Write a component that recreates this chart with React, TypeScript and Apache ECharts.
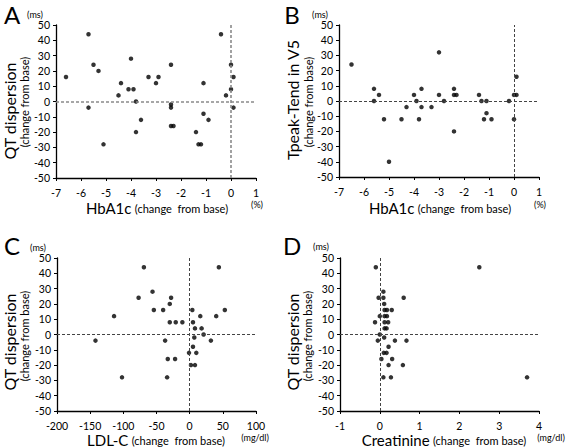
import React, { useEffect, useRef } from "react";
import * as echarts from "echarts";

// Panel A: HbA1c change (%) vs QT dispersion change (ms)
const hba1cA = [-6.6, -5.7, -5.7, -5.5, -5.3, -5.1, -4.5, -4.4, -4.1, -4.0, -3.9, -3.8, -3.8, -3.6, -3.3, -3.0, -2.9, -2.4, -2.4, -2.4, -2.4, -2.3, -1.4, -1.3, -1.2, -1.1, -1.1, -0.9, -0.4, -0.2, 0.0, 0.0, 0.1, 0.1];
const qtdA = [16, 44, -4, 24, 20, -28, 4, 12, 8, 28, 8, 0, -20, -12, 16, 12, 16, 24, -2, -4, -16, -16, -20, -28, -28, 12, -8, -12, 44, 4, 24, 8, 16, -4];

// Panel B: HbA1c change (%) vs Tpeak-Tend in V5 change (ms)
const hba1cB = [-6.5, -5.6, -5.6, -5.4, -5.2, -5.0, -4.5, -4.3, -4.0, -3.9, -3.8, -3.7, -3.7, -3.3, -3.0, -3.0, -2.8, -2.4, -2.4, -2.4, -2.3, -1.4, -1.3, -1.2, -1.1, -1.1, -0.9, -0.2, 0.0, 0.0, 0.1, 0.1];
const tpteB = [24, 8, 0, 4, -12, -40, -12, -4, 4, 0, -12, 8, -4, -4, 32, 4, 0, 8, 4, -20, 4, 4, 0, -12, 0, -8, -12, 0, 4, -12, 16, 4];

// Panel C: LDL-C change (mg/dl) vs QT dispersion change (ms)
const ldlC = [-142, -114, -102, -77, -69, -56, -54, -40, -37, -34, -33, -30, -30, -28, -21, -22, -11, -1, 2, 4, 5, 5, 8, 8, 7, 10, 16, 18, 21, 32, 40, 44, 53];
const qtdC = [-4, 12, -28, 24, 44, 28, 16, 16, -4, -28, -16, 8, 20, 24, 8, -16, 8, -12, -20, 16, 8, -8, -20, 4, -2, -12, 12, 4, 0, -4, 12, 44, 16];

// Panel D: Creatinine change (mg/dl) vs QT dispersion change (ms)
const creaD = [-0.1, 2.5, 0.09, -0.03, 0.09, 0.6, 0.11, 0.12, 0.18, 0.3, 0.0, 0.12, 0.18, -0.12, 0.12, 0.21, 0.12, 0.17, 0.0, -0.05, 0.11, 0.38, 0.67, 0.22, 0.1, 0.17, 0.04, 0.31, 0.22, 0.58, 0.09, 0.28, 3.7];
const qtdD = [44, 44, 28, 24, 24, 24, 20, 16, 16, 16, 12, 12, 12, 8, 8, 8, 4, 4, 0, -4, -2, -4, -4, -8, -12, -12, -16, -16, -20, -20, -28, -28, -28];

const yTicks = [-50, 50, 10];
const xRangeA = [-7, 1, 1];
const xRangeC = [-200, 100, 50];
const xRangeD = [-1, 4, 1];

const FONT = "Lato";

function zip(xs: number[], ys: number[]) {
  return xs.map((x, i) => [x, ys[i]]);
}

export default function App() {
  const ref = useRef<HTMLDivElement>(null);
  useEffect(() => {
    if (!ref.current) return;
    const chart = echarts.init(ref.current, null, { renderer: "svg" });
    const grids = [
      { left: 56, top: 25, width: 200, height: 153 },
      { left: 339, top: 25, width: 200, height: 152 },
      { left: 57, top: 258, width: 199, height: 153 },
      { left: 340, top: 258, width: 199, height: 153 },
    ];
    const xr = [xRangeA, xRangeA, xRangeC, xRangeD];
    const mkX = (i: number) => ({
      type: "value",
      gridIndex: i,
      min: xr[i][0],
      max: xr[i][1],
      interval: xr[i][2],
      splitLine: { show: false },
      axisLine: { onZero: false, lineStyle: { color: "#000", width: 1.3 } },
      axisTick: { show: true, length: 3, lineStyle: { color: "#000" } },
      axisLabel: { color: "#000", fontSize: 10.5, fontFamily: FONT, margin: 9 },
    });
    const mkY = (i: number) => ({
      type: "value",
      gridIndex: i,
      min: yTicks[0],
      max: yTicks[1],
      interval: yTicks[2],
      splitLine: { show: false },
      axisLine: { show: true, onZero: false, lineStyle: { color: "#000", width: 1.3 } },
      axisTick: { show: true, length: 3, lineStyle: { color: "#000" } },
      axisLabel: { color: "#000", fontSize: 10.5, fontFamily: FONT, margin: 6 },
    });
    const datas = [zip(hba1cA, qtdA), zip(hba1cB, tpteB), zip(ldlC, qtdC), zip(creaD, qtdD)];
    const refColors = ["#8a8a8a", "#444", "#444", "#444"];
    const refWidths = [1.6, 1, 1, 1];
    const series = datas.map((d, i) => ({
      type: "scatter",
      xAxisIndex: i,
      yAxisIndex: i,
      data: d,
      symbol: "circle",
      symbolSize: 4.5,
      itemStyle: { color: "#000" },
      markLine: {
        silent: true,
        symbol: "none",
        label: { show: false },
        lineStyle: { color: refColors[i], width: refWidths[i], type: [3, 2] },
        data: [{ yAxis: 0 }, { xAxis: 0 }],
      },
    }));
    const txt = (text: string, x: number, y: number, size: number, extra: any = {}) => ({
      type: "text",
      x,
      y,
      ...extra,
      style: {
        text,
        fill: "#000",
        font: `${size}px ${FONT}`,
        textAlign: "center",
        textVerticalAlign: "middle",
      },
    });
    const rot = { rotation: Math.PI / 2 };
    const xTitle = (big: string, x: number, y: number) => ({
      type: "text",
      x,
      y,
      style: {
        text: `{a|${big}} {b|(change  from base)}`,
        fill: "#000",
        textAlign: "center",
        textVerticalAlign: "middle",
        rich: {
          a: { fontSize: 15, fontFamily: FONT, fill: "#000" },
          b: { fontSize: 11, fontFamily: FONT, fill: "#000" },
        },
      },
    });
    const graphic = [
      txt("A", 12, 14, 24),
      txt("B", 292, 14, 24),
      txt("C", 12, 245, 24),
      txt("D", 292, 245, 24),
      txt("(ms)", 35, 14, 9),
      txt("(ms)", 320, 14, 9),
      txt("(ms)", 38, 247, 9),
      txt("(ms)", 321, 246, 9),
      txt("QT dispersion", 9, 111, 16, rot),
      txt("(change from base)", 24, 102, 11, rot),
      txt("Tpeak-Tend in V5", 292, 100, 16, rot),
      txt("(change from base)", 308, 102, 11, rot),
      txt("QT dispersion", 9, 342, 16, rot),
      txt("(change from base)", 24, 336, 11, rot),
      txt("QT dispersion", 292, 342, 16, rot),
      txt("(change from base)", 307, 336, 11, rot),
      xTitle("HbA1c", 157, 208),
      xTitle("HbA1c", 440, 208),
      xTitle("LDL-C", 156, 440),
      xTitle("Creatinine", 444, 440),
      txt("(%)", 257, 204, 9),
      txt("(%)", 540, 204, 9),
      txt("(mg/dl)", 255, 437, 9),
      txt("(mg/dl)", 551, 437, 9),
    ];
    chart.setOption({
      animation: false,
      backgroundColor: "#fff",
      grid: grids,
      xAxis: [0, 1, 2, 3].map(mkX),
      yAxis: [0, 1, 2, 3].map(mkY),
      series,
      graphic,
    });
    return () => chart.dispose();
  }, []);
  return (
    <div
      ref={ref}
      style={{ position: "fixed", left: 0, top: 0, width: 567, height: 448, background: "#fff" }}
    />
  );
}
